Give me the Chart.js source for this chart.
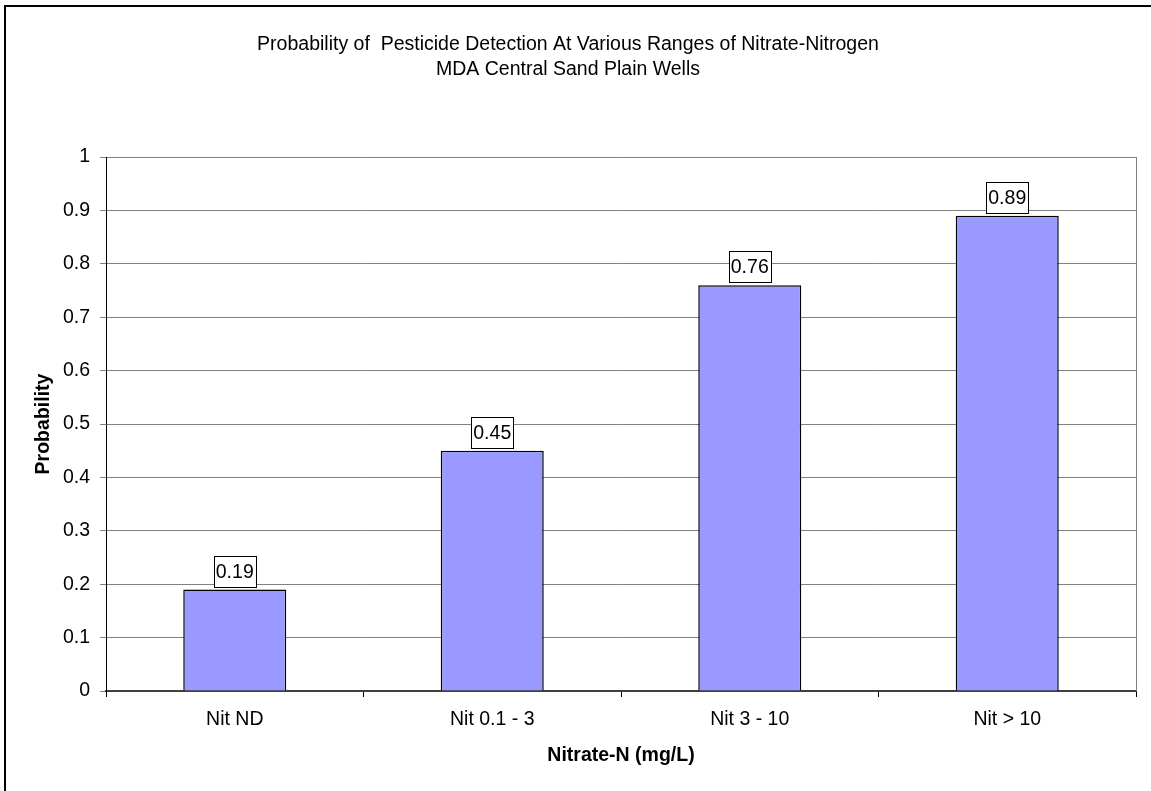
<!DOCTYPE html>
<html>
<head>
<meta charset="utf-8">
<title>Probability of Pesticide Detection</title>
<script src="https://cdn.jsdelivr.net/npm/chart.js@4/dist/chart.umd.min.js"></script>
<style>
  html, body { margin: 0; padding: 0; background: #ffffff; }
  canvas { display: block; }
</style>
</head>
<body>
<canvas id="chart" width="1151" height="791"></canvas>
<script>
// Nitrate-nitrogen ranges and the probability of a pesticide detection in each
const categories = ['Nit ND', 'Nit 0.1 - 3', 'Nit 3 - 10', 'Nit > 10'];
const probabilities = [0.19, 0.45, 0.76, 0.89];
const yTickLabels = ['0', '0.1', '0.2', '0.3', '0.4', '0.5', '0.6', '0.7', '0.8', '0.9', '1'];
const titleLines = [
  'Probability of  Pesticide Detection At Various Ranges of Nitrate-Nitrogen',
  'MDA Central Sand Plain Wells'
];
const xAxisTitle = 'Nitrate-N (mg/L)';
const yAxisTitle = 'Probability';

const FONT = "'Liberation Sans', Arial, Helvetica, sans-serif";
const FS = 19.5;

// Frame lines on the top and left edges of the page
const framePlugin = {
  id: 'frame',
  beforeDraw(chart) {
    const ctx = chart.ctx;
    ctx.save();
    ctx.fillStyle = '#ffffff';
    ctx.fillRect(0, 0, chart.width, chart.height);
    ctx.strokeStyle = '#000000';
    ctx.lineWidth = 2;
    ctx.beginPath();
    ctx.moveTo(5, chart.height);
    ctx.lineTo(5, 6);
    ctx.lineTo(chart.width, 6);
    ctx.stroke();
    ctx.restore();
  }
};

// Right-hand edge of the plot area
const plotEdgePlugin = {
  id: 'plotEdge',
  beforeDatasetsDraw(chart) {
    const { ctx, chartArea } = chart;
    ctx.save();
    ctx.strokeStyle = '#808080';
    ctx.lineWidth = 1;
    ctx.beginPath();
    ctx.moveTo(Math.round(chartArea.right) + 0.5, chartArea.top);
    ctx.lineTo(Math.round(chartArea.right) + 0.5, chartArea.bottom);
    ctx.stroke();
    ctx.restore();
  }
};

// Boxed value labels above each bar
const valueLabelPlugin = {
  id: 'valueLabels',
  afterDatasetsDraw(chart) {
    const ctx = chart.ctx;
    const meta = chart.getDatasetMeta(0);
    const data = chart.data.datasets[0].data;
    ctx.save();
    ctx.font = FS + 'px ' + FONT;
    ctx.textAlign = 'center';
    ctx.textBaseline = 'middle';
    meta.data.forEach((bar, i) => {
      const text = data[i].toFixed(2);
      const w = Math.round(ctx.measureText(text).width + 4);
      const h = 31;
      const bottom = bar.y - 3;
      const left = Math.round(bar.x - w / 2) + 0.5;
      const top = Math.round(bottom - h) + 0.5;
      ctx.fillStyle = '#ffffff';
      ctx.fillRect(left, top, w, h);
      ctx.strokeStyle = '#000000';
      ctx.lineWidth = 1;
      ctx.strokeRect(left, top, w, h);
      ctx.fillStyle = '#000000';
      ctx.fillText(text, bar.x, top + h / 2 + 1);
    });
    ctx.restore();
  }
};

new Chart(document.getElementById('chart'), {
  type: 'bar',
  data: {
    labels: categories,
    datasets: [{
      data: probabilities,
      backgroundColor: '#9999ff',
      borderColor: '#000000',
      borderWidth: 1.5,
      barPercentage: 0.4,
      categoryPercentage: 1.0
    }]
  },
  options: {
    responsive: false,
    animation: false,
    events: [],
    layout: { padding: { top: 0, left: 0, right: 15, bottom: 0 } },
    plugins: {
      legend: { display: false },
      tooltip: { enabled: false },
      title: {
        display: true,
        text: titleLines,
        color: '#000000',
        font: { family: FONT, size: FS, weight: 'normal', lineHeight: '25px' },
        padding: { top: 32.5, bottom: 74.5 }
      }
    },
    scales: {
      x: {
        grid: {
          display: true,
          drawOnChartArea: false,
          drawTicks: true,
          tickLength: 6,
          tickColor: '#000000',
          offset: true
        },
        border: { display: true, color: '#404040', width: 2 },
        ticks: {
          color: '#000000',
          font: { family: FONT, size: FS },
          padding: 11
        },
        title: {
          display: true,
          text: xAxisTitle,
          color: '#000000',
          font: { family: FONT, size: FS, weight: 'bold' },
          padding: { top: 0, bottom: 24 }
        },
        afterFit(scale) { scale.height = 100; }
      },
      y: {
        min: 0,
        max: 1,
        grid: {
          color: '#808080',
          lineWidth: 1,
          tickLength: 6,
          drawTicks: true
        },
        border: { display: true, color: '#000000', width: 1 },
        ticks: {
          stepSize: 0.1,
          color: '#000000',
          font: { family: FONT, size: FS },
          padding: 10,
          callback: (value, index) => yTickLabels[index]
        },
        title: {
          display: true,
          text: yAxisTitle,
          color: '#000000',
          font: { family: FONT, size: FS, weight: 'bold' },
          padding: { top: 32, bottom: 0 }
        },
        afterFit(scale) { scale.width = 106; }
      }
    }
  },
  plugins: [framePlugin, plotEdgePlugin, valueLabelPlugin]
});
</script>
</body>
</html>
